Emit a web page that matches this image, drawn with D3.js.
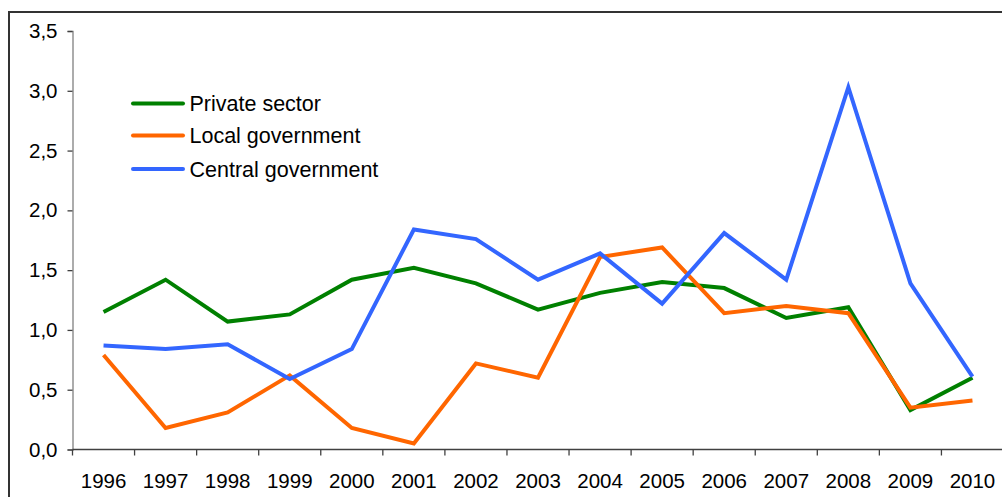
<!DOCTYPE html>
<html>
<head>
<meta charset="utf-8">
<script src="https://cdn.jsdelivr.net/npm/d3@7"></script>
<style>
  html, body { margin: 0; padding: 0; background: #fff; }
  svg { display: block; font-family: "Liberation Sans", Arial, sans-serif; }
</style>
</head>
<body>
<svg id="chart" width="1002" height="497"></svg>
<script>
const years = ["1996","1997","1998","1999","2000","2001","2002","2003","2004","2005","2006","2007","2008","2009","2010"];
const privateSector = [1.15,1.42,1.07,1.13,1.42,1.52,1.39,1.17,1.31,1.40,1.35,1.10,1.19,0.33,0.60];
const localGovernment = [0.79,0.18,0.31,0.62,0.18,0.05,0.72,0.60,1.61,1.69,1.14,1.20,1.14,0.35,0.41];
const centralGovernment = [0.87,0.84,0.88,0.59,0.84,1.84,1.76,1.42,1.64,1.22,1.81,1.42,3.03,1.39,0.61];
const yTicks = [0,0.5,1.0,1.5,2.0,2.5,3.0,3.5];
const seriesNames = ["Private sector","Local government","Central government"];
const seriesColors = ["#008000","#FF6600","#3366FF"];
const seriesValues = [privateSector, localGovernment, centralGovernment];

const svg = d3.select("#chart");
const plotLeft = 72.5, plotRight = 1003.5, plotTop = 31, plotBottom = 449.5;

// outer border
svg.append("rect").attr("x", 9).attr("y", 12).attr("width", 1010).attr("height", 500)
  .attr("fill", "none").attr("stroke", "#333").attr("stroke-width", 2);

const x = d3.scaleBand().domain(years).range([plotLeft, plotRight]).padding(0);
const y = d3.scaleLinear().domain([0, 3.5]).range([plotBottom, plotTop]);
const fmt = v => d3.format(".1f")(v).replace(".", ",");

// y axis
const yAxis = svg.append("g").attr("transform", `translate(${plotLeft},0)`)
  .call(d3.axisLeft(y).tickValues(yTicks).tickFormat(fmt).tickSize(5).tickPadding(10));
yAxis.select(".domain").attr("stroke", "#808080").attr("stroke-width", 1.3);
yAxis.selectAll(".tick line").attr("stroke", "#404040").attr("stroke-width", 1.3);
yAxis.selectAll("text").attr("font-size", 20.5).attr("fill", "#000");

// x axis labels
const xAxis = svg.append("g").attr("transform", `translate(0,${plotBottom})`)
  .call(d3.axisBottom(x).tickSize(0).tickPadding(24));
xAxis.select(".domain").remove();
xAxis.selectAll("text").attr("font-size", 20.5).attr("fill", "#000");
svg.append("line").attr("x1", plotLeft).attr("x2", 1002).attr("y1", plotBottom).attr("y2", plotBottom)
  .attr("stroke", "#404040").attr("stroke-width", 1.5);
// x tick marks at category boundaries
const boundaries = years.map(d => x(d)).concat([x.range()[1]]);
svg.append("g").selectAll("line").data(boundaries).join("line")
  .attr("x1", d => d).attr("x2", d => d).attr("y1", plotBottom).attr("y2", plotBottom + 6)
  .attr("stroke", "#404040").attr("stroke-width", 1.3);

// series lines
const line = d3.line()
  .x((d, i) => x(years[i]) + x.bandwidth() / 2)
  .y(d => y(d));
seriesValues.forEach((vals, k) => {
  svg.append("path").datum(vals).attr("d", line)
    .attr("fill", "none").attr("stroke", seriesColors[k]).attr("stroke-width", 4)
    .attr("stroke-linejoin", "miter");
});

// legend
const legendY = [103.5, 135.5, 169];
seriesNames.forEach((name, k) => {
  svg.append("line").attr("x1", 133).attr("x2", 183).attr("y1", legendY[k]).attr("y2", legendY[k])
    .attr("stroke", seriesColors[k]).attr("stroke-width", 4).attr("stroke-linecap", "round");
  svg.append("text").attr("x", 189.5).attr("y", legendY[k] + 7.8)
    .attr("font-size", 21.5).attr("fill", "#000").text(name);
});
</script>
</body>
</html>
